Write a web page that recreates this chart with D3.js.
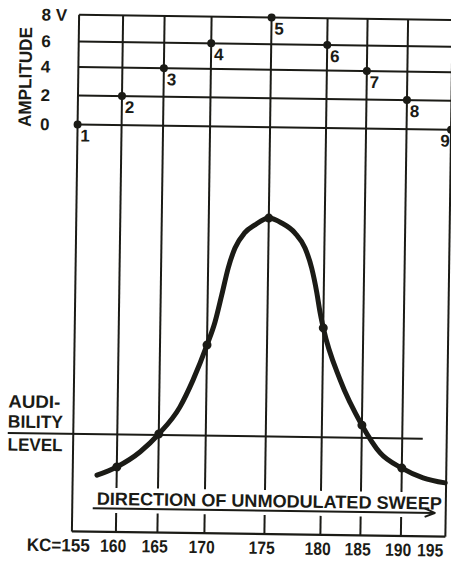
<!DOCTYPE html>
<html>
<head>
<meta charset="utf-8">
<script src="https://cdn.jsdelivr.net/npm/d3@7"></script>
<style>
  body { margin: 0; background: #fff; }
  svg { display: block; }
</style>
</head>
<body>
<svg id="chart" width="451" height="561"></svg>
<script>
// Frequency grid, kilocycles
const kcTicks = [155, 160, 165, 170, 175, 180, 185, 190, 195];
const kcLabels = ["KC=155", "160", "165", "170", "175", "180", "185", "190", "195"];

// Amplitude axis of the upper panel
const voltTicks = [0, 2, 4, 6, 8];
const voltLabels = ["0", "2", "4", "6", "8 V"];

// Modulation amplitude at each step of the sweep
const stepNumbers = [1, 2, 3, 4, 5, 6, 7, 8, 9];
const stepVolts = [0, 2, 4, 6, 8, 6, 4, 2, 0];

// Receiver response along the sweep (relative, peak = 100)
const responseKc = [157.76, 160, 162.8, 165, 167.2, 168.56, 170, 170.64, 171.17, 171.68,
                    172.22, 173.0, 173.86, 175, 176.16, 177.36, 178.27, 178.89, 179.37,
                    179.69, 180, 182.2, 185, 187.3, 190, 192.4, 194.9];
const responseVal = [17.9, 20.6, 25.5, 31.2, 39.8, 48.4, 59.6, 66.9, 75.5, 84.1,
                     90.4, 95.2, 97.8, 100, 98.5, 95.4, 90.7, 84.4, 76.8,
                     70.5, 65.5, 49.1, 34.9, 26.2, 21.5, 18.5, 17.0];
// Readings marked with a dot on the response curve
const markedKc = [160, 165, 170, 175, 180, 185, 190];

// Level below which the signal is inaudible
const audibilityLevel = 31.2;
const audibilityText = ["AUDI-", "BILITY", "LEVEL"];
const sweepText = "DIRECTION OF UNMODULATED SWEEP";
const amplitudeTitle = "AMPLITUDE";

const ink = "#1b1b16";
const font = "'Liberation Sans', Arial, sans-serif";

const svg = d3.select("#chart");
// the whole drawing sits slightly turned on the page
const g = svg.append("g").attr("transform", "rotate(0.8, 260, 275)");

// hand-ruled grid: spacing is not perfectly even
const x = d3.scaleLinear()
  .domain(kcTicks)
  .range([75.5, 119.5, 161, 208, 268, 324, 364, 404.5, 449]);
const yVolt = d3.scaleLinear()
  .domain(voltTicks)
  .range([127, 98, 69.5, 44, 17.4]);
const yResp = d3.scaleLinear().domain([0, 100]).range([534, 218]);

const gridTop = yVolt(8), gridBottom = 534;
const gapTop = 490, gapBottom = 515;

// horizontal amplitude lines
g.append("g").selectAll("line").data(voltTicks).join("line")
  .attr("x1", x(155)).attr("x2", x(195) + 12)
  .attr("y1", d => yVolt(d)).attr("y2", d => yVolt(d))
  .attr("stroke", ink).attr("stroke-width", 2);

// vertical frequency lines, broken where the sweep legend runs
const vg = g.append("g");
kcTicks.forEach((k, i) => {
  const edge = i === 0 || i === kcTicks.length - 1;
  const segs = edge ? [[gridTop, gridBottom]] : [[gridTop, gapTop], [gapBottom, gridBottom]];
  segs.forEach(([a, b]) => {
    vg.append("line")
      .attr("x1", x(k)).attr("x2", x(k))
      .attr("y1", a).attr("y2", b)
      .attr("stroke", ink).attr("stroke-width", 2);
  });
});

// bottom frame
g.append("line")
  .attr("x1", x(155)).attr("x2", x(195))
  .attr("y1", gridBottom).attr("y2", gridBottom)
  .attr("stroke", ink).attr("stroke-width", 2.2);

// amplitude tick labels
g.append("g").selectAll("text").data(voltTicks).join("text")
  .attr("x", 38).attr("y", d => yVolt(d)).attr("dy", "0.36em")
  .attr("font-family", font).attr("font-weight", 700).attr("font-size", 17)
  .attr("fill", ink)
  .text((d, i) => voltLabels[i]);

// axis title
g.append("text")
  .attr("transform", "translate(28.7,80.3) rotate(-90)")
  .attr("text-anchor", "middle")
  .attr("font-family", font).attr("font-weight", 700).attr("font-size", 18)
  .attr("textLength", 100).attr("lengthAdjust", "spacingAndGlyphs")
  .attr("fill", ink)
  .text(amplitudeTitle);

// sweep steps
const steps = stepNumbers.map((n, i) => ({ n, kc: kcTicks[i], v: stepVolts[i] }));
g.append("g").selectAll("circle").data(steps).join("circle")
  .attr("cx", d => x(d.kc)).attr("cy", d => yVolt(d.v)).attr("r", 4)
  .attr("fill", ink);
g.append("g").selectAll("text").data(steps).join("text")
  .attr("x", (d, i) => i === steps.length - 1 ? x(d.kc) - 1 : x(d.kc) + 3)
  .attr("y", d => yVolt(d.v) + 17)
  .attr("text-anchor", (d, i) => i === steps.length - 1 ? "end" : "start")
  .attr("font-family", font).attr("font-weight", 700).attr("font-size", 17)
  .attr("fill", ink)
  .text(d => d.n);

// audibility level
g.append("line")
  .attr("x1", 10).attr("x2", 425)
  .attr("y1", yResp(audibilityLevel) + 1).attr("y2", yResp(audibilityLevel) + 1)
  .attr("stroke", ink).attr("stroke-width", 2);
const audY = [411, 431, 454];
const audW = [52, 55, 55];
audibilityText.forEach((t, i) => {
  g.append("text")
    .attr("x", 10).attr("y", audY[i])
    .attr("font-family", font).attr("font-weight", 700).attr("font-size", 18)
    .attr("textLength", audW[i]).attr("lengthAdjust", "spacingAndGlyphs")
    .attr("fill", ink)
    .text(t);
});

// response curve
const resp = responseKc.map((k, i) => ({ kc: k, r: responseVal[i] }));
const line = d3.line()
  .x(d => x(d.kc)).y(d => yResp(d.r))
  .curve(d3.curveMonotoneX);
g.append("path").datum(resp)
  .attr("d", line)
  .attr("fill", "none").attr("stroke", ink)
  .attr("stroke-width", 5).attr("stroke-linecap", "round");
g.append("g").selectAll("circle")
  .data(resp.filter(d => markedKc.includes(d.kc))).join("circle")
  .attr("cx", d => x(d.kc)).attr("cy", d => yResp(d.r)).attr("r", 4.5)
  .attr("fill", ink);

// sweep direction legend and arrow
g.append("text")
  .attr("x", 100).attr("y", 507)
  .attr("font-family", font).attr("font-weight", 700).attr("font-size", 18)
  .attr("textLength", 345).attr("lengthAdjust", "spacingAndGlyphs")
  .attr("fill", ink)
  .text(sweepText);
const arrowY = 510.5, arrowX0 = 96, arrowX1 = 438;
g.append("line")
  .attr("x1", arrowX0).attr("x2", arrowX1)
  .attr("y1", arrowY).attr("y2", arrowY)
  .attr("stroke", ink).attr("stroke-width", 2);
g.append("path")
  .attr("d", `M${arrowX1 - 10},${arrowY - 4.5} L${arrowX1},${arrowY} L${arrowX1 - 10},${arrowY + 4}`)
  .attr("fill", "none").attr("stroke", ink).attr("stroke-width", 2)
  .attr("stroke-linejoin", "round");

// frequency labels
g.append("g").selectAll("text").data(kcTicks).join("text")
  .attr("x", (d, i) => i === 0 ? x(d) + 18 : i === kcTicks.length - 1 ? x(d) - 2 : x(d) - 2.5)
  .attr("y", 554)
  .attr("text-anchor", (d, i) => (i === 0 || i === kcTicks.length - 1) ? "end" : "middle")
  .attr("font-family", font).attr("font-weight", 700).attr("font-size", 18)
  .attr("textLength", (d, i) => i === 0 ? 63 : 26)
  .attr("lengthAdjust", "spacingAndGlyphs")
  .attr("fill", ink)
  .text((d, i) => kcLabels[i]);
</script>
</body>
</html>
